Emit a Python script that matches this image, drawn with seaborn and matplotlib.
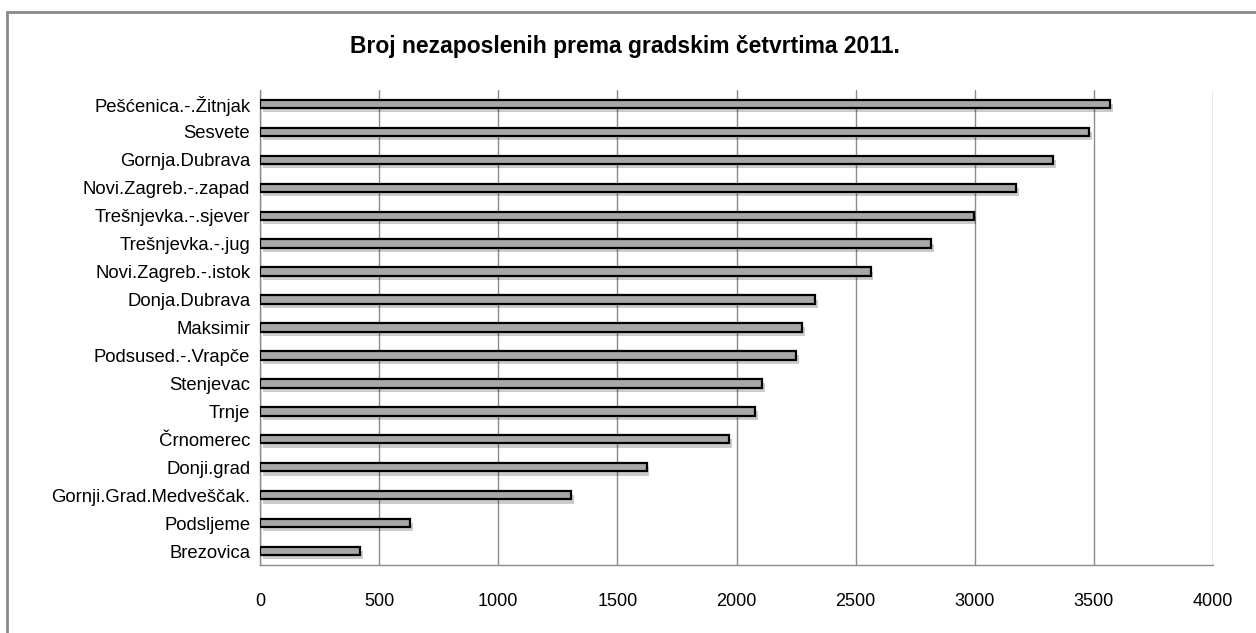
import numpy as np
import pandas as pd
import matplotlib
matplotlib.use('Agg')
import matplotlib.pyplot as plt
import matplotlib.patheffects as pe
from matplotlib.patches import Rectangle
import seaborn as sns

# Data (top to bottom)
quarters = [
    'Pešćenica.-.Žitnjak', 'Sesvete', 'Gornja.Dubrava', 'Novi.Zagreb.-.zapad',
    'Trešnjevka.-.sjever', 'Trešnjevka.-.jug', 'Novi.Zagreb.-.istok',
    'Donja.Dubrava', 'Maksimir', 'Podsused.-.Vrapče', 'Stenjevac', 'Trnje',
    'Črnomerec', 'Donji.grad', 'Gornji.Grad.Medveščak.', 'Podsljeme', 'Brezovica',
]
unemployed = [3567, 3480, 3330, 3173, 2995, 2816, 2563, 2330, 2276, 2251,
              2109, 2077, 1968, 1623, 1307, 630, 420]
x_ticks = [0, 500, 1000, 1500, 2000, 2500, 3000, 3500, 4000]

title = 'Broj nezaposlenih prema gradskim četvrtima 2011.'

sns.set_style('white')
plt.rcParams['font.family'] = ['Liberation Sans', 'DejaVu Sans']
plt.rcParams['text.color'] = 'black'

df = pd.DataFrame({'kvart': quarters, 'broj': unemployed})

fig = plt.figure(figsize=(12.56, 6.33), dpi=100)
ax = fig.add_axes([0.207, 0.1074, 0.7588, 0.7504])

sns.barplot(data=df, x='broj', y='kvart', orient='h', color='#a8a8a8',
            width=0.3, edgecolor='black', linewidth=1.6, saturation=1,
            ax=ax, zorder=3)

# soft shadow under bars, like the Excel style
for bar in ax.patches:
    bar.set_path_effects([
        pe.SimplePatchShadow(offset=(2, -3), shadow_rgbFace='black', alpha=0.2),
        pe.Normal(),
    ])

ax.set_xlim(0, 4000)
ax.set_ylim(len(quarters) - 0.5, -0.5)
ax.set_xticks(x_ticks)
ax.set_xticklabels([str(t) for t in x_ticks])
ax.set_xlabel('')
ax.set_ylabel('')

ax.grid(axis='x', color='#8c8c8c', linewidth=1.0, zorder=0)
ax.set_axisbelow(True)

for side in ['top', 'right']:
    ax.spines[side].set_visible(False)
for side in ['left', 'bottom']:
    ax.spines[side].set_color('#8c8c8c')
    ax.spines[side].set_linewidth(1.0)

ax.tick_params(axis='x', which='major', direction='out', length=6, width=1,
               color='#8c8c8c', pad=14, labelsize=13, labelcolor='black')
ax.tick_params(axis='y', which='major', length=0, pad=7, labelsize=13.3,
               labelcolor='black')
ax.set_yticks(np.arange(-0.5, len(quarters), 1.0), minor=True)
ax.tick_params(axis='y', which='minor', direction='out', length=6, width=1,
               color='#8c8c8c')

fig.text(0.4976, 0.926, title, ha='center', va='center', fontsize=16.5,
         fontweight='bold', color='black')

# chart-area frame
fig.patches.append(Rectangle((7 / 1256, -0.1), 1.2, 1 - 12 / 633 + 0.1,
                             transform=fig.transFigure, fill=False,
                             edgecolor='#8a8a8a', linewidth=2))

fig.savefig('out.png', dpi=100)
